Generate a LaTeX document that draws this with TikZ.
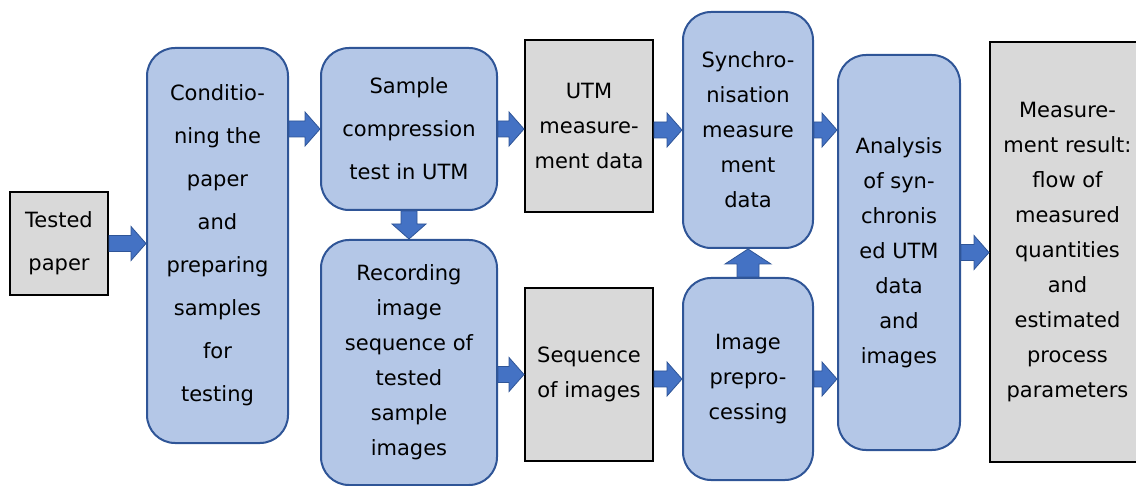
\documentclass[tikz,border=0pt]{standalone}
\usepackage{fontspec}
\setmainfont{DejaVu Sans}
\usetikzlibrary{calc}
\definecolor{boxblue}{HTML}{B4C7E7}
\definecolor{edgeblue}{HTML}{2F5597}
\definecolor{arrowblue}{HTML}{4472C4}
\definecolor{datagray}{HTML}{D9D9D9}
\tikzset{
  ba shaft/.store in=\bashaft, ba shaft=8pt,
  ba head/.store in=\bahead, ba head=17pt,
  ba len/.store in=\balen, ba len=15pt,
  process/.style={draw=edgeblue,fill=boxblue,line width=2pt,rounded corners=28pt,align=center,inner sep=0pt},
  datum/.style={draw=black,fill=datagray,line width=2pt,align=center,inner sep=0pt},
  wide/.style={font=\fontsize{21}{43}\selectfont},
  tight/.style={font=\fontsize{21}{35}\selectfont},
  blockarrow/.style={draw=edgeblue,fill=arrowblue,line width=0.8pt,
    to path={
      ($(\tikztostart)!\bashaft!90:(\tikztotarget)$)
      -- ($(\tikztotarget)!\balen!(\tikztostart)!\bashaft!-90:(\tikztostart)$)
      -- ($(\tikztotarget)!\balen!(\tikztostart)!\bahead!-90:(\tikztostart)$)
      -- (\tikztotarget)
      -- ($(\tikztotarget)!\balen!(\tikztostart)!\bahead!90:(\tikztostart)$)
      -- ($(\tikztotarget)!\balen!(\tikztostart)!\bashaft!90:(\tikztostart)$)
      -- ($(\tikztostart)!\bashaft!-90:(\tikztotarget)$)
      -- cycle}},
}

\begin{document}
\begin{tikzpicture}[x=1pt,y=-1pt]
  \useasboundingbox (0,0) rectangle (1136,486);
  \clip (0,0) rectangle (1136,486);
  % boxes
  \node[datum,wide,minimum width=98pt,minimum height=103pt] (paper) at (59,243.5) {Tested\\paper};
  \node[process,wide,minimum width=141pt,minimum height=395pt] (cond) at (217.5,245.5)
    {Conditio-\\ning the\\paper\\and\\preparing\\samples\\for\\testing};
  \node[process,wide,minimum width=176pt,minimum height=162pt] (comp) at (409,129)
    {Sample\\compression\\test in UTM};
  \node[process,tight,minimum width=176pt,minimum height=245pt] (rec) at (409,362.5)
    {Recording\\image\\sequence of\\tested\\sample\\images};
  \node[datum,tight,minimum width=128pt,minimum height=172pt] (utm) at (589,126)
    {UTM\\measure-\\ment data};
  \node[datum,tight,minimum width=128pt,minimum height=173pt] (seq) at (589,374.5)
    {Sequence\\of images};
  \node[process,tight,minimum width=130pt,minimum height=236pt] (sync) at (748,130)
    {Synchro-\\nisation\\measure\\ment\\data};
  \node[process,tight,minimum width=130pt,minimum height=202pt] (prep) at (748,379)
    {Image\\prepro-\\cessing};
  \node[process,tight,minimum width=122pt,minimum height=395pt] (anal) at (899,252.5)
    {Analysis\\of syn-\\chronis\\ed UTM\\data\\and\\images};
  \node[datum,tight,minimum width=155pt,minimum height=420pt] (result) at (1067.5,252)
    {Measure-\\ment result:\\flow of\\measured\\quantities\\and\\estimated\\process\\parameters};
  % arrows
  \draw[blockarrow] (paper.east) to (paper.east -| cond.west);
  \draw[blockarrow] (cond.east |- comp.west) to (comp.west);
  \draw[blockarrow] (comp.east) to (comp.east -| utm.west);
  \draw[blockarrow] (comp.south) to (rec.north);
  \draw[blockarrow] (utm.east |- sync.west) to (sync.west);
  \draw[blockarrow] (rec.east |- seq.west) to (seq.west);
  \draw[blockarrow] (seq.east |- prep.west) to (prep.west);
  \draw[blockarrow,ba shaft=11pt,ba head=23pt] (prep.north) to (sync.south);
  \draw[blockarrow] (sync.east) to (sync.east -| anal.west);
  \draw[blockarrow] (prep.east) to (prep.east -| anal.west);
  \draw[blockarrow] (anal.east) to (anal.east -| result.west);
\end{tikzpicture}
\end{document}
